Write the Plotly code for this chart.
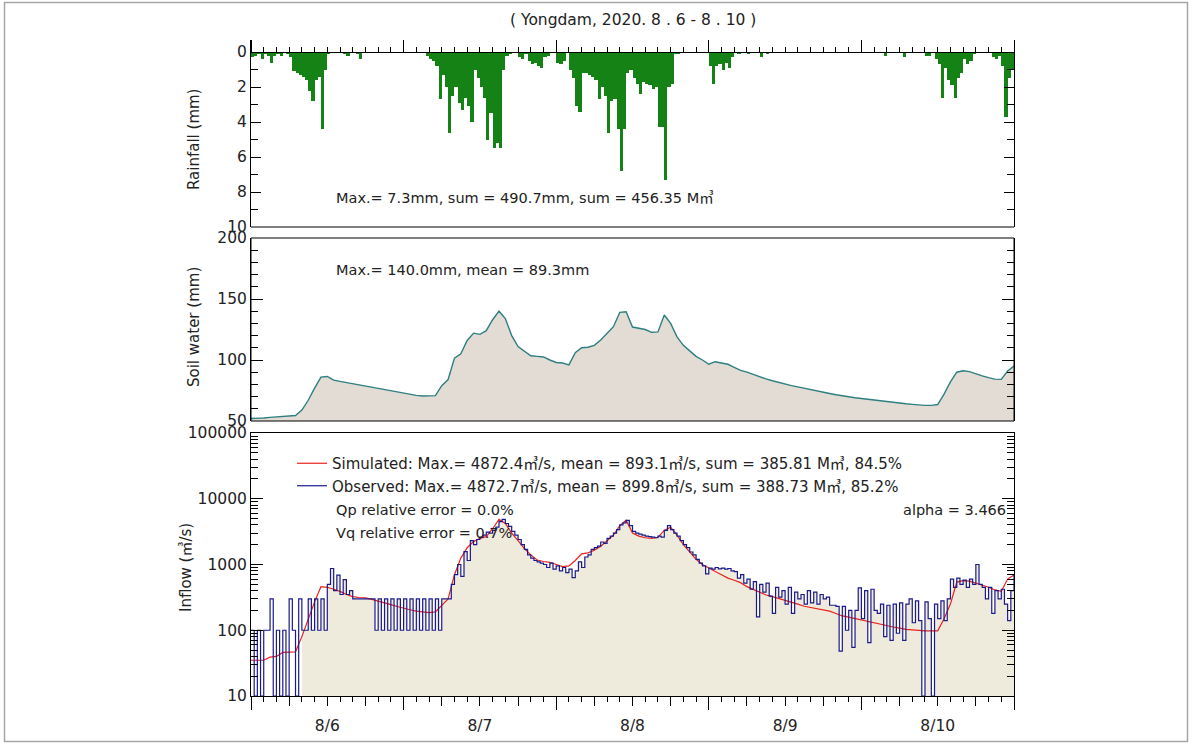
import pandas as pd
import plotly.graph_objects as go

W, H = 1192, 744
START, END = "2020-08-06 00:00", "2020-08-11 00:00"

# Half-hourly basin rainfall (mm), 8/6 00:00 .. 8/10 23:30 (one row = 6 h)
rain_mm = [
    0.3, 0.2, 0.1, 0.4, 0.1, 0.2, 0.65, 0.2, 0.1, 0.2, 0.05, 0.1,
    0.3, 1.1, 1.2, 1.3, 1.4, 1.6, 2.2, 2.8, 1.6, 1.4, 4.4, 1.0,
    0.1, 0.05, 0.05, 0, 0, 0.1, 0.2, 0, 0, 0.1, 0.4, 0,
    0.05, 0, 0.05, 0.05, 0, 0, 0, 0, 0, 0, 0, 0,
    0, 0, 0, 0, 0, 0, 0.05, 0.2, 0.4, 0.5, 0.8, 2.7,
    1.3, 2.0, 4.6, 2.5, 2.0, 2.9, 3.3, 2.6, 3.1, 4.0, 1.0, 1.5,
    2.0, 2.6, 5.0, 3.5, 5.5, 5.2, 5.5, 1.0, 0.2, 0.1, 0, 0,
    0.3, 0.4, 0.1, 0.5, 0.7, 0.6, 0.8, 0.9, 0.3, 0.2, 0, 0,
    0.6, 0.7, 0.5, 0, 1.0, 1.5, 3.1, 3.4, 1.2, 1.2, 1.3, 1.4,
    1.6, 2.7, 2.0, 2.5, 4.6, 2.8, 2.7, 4.4, 6.8, 4.4, 1.2, 1.0,
    1.5, 1.8, 2.4, 1.7, 1.8, 1.9, 2.1, 2.0, 4.3, 4.3, 7.3, 2.0,
    1.8, 0.1, 0.1, 0, 0, 0, 0, 0, 0, 0, 0, 0,
    0.8, 1.8, 0.8, 0.7, 1.0, 0.6, 0.9, 0.3, 0, 0.1, 0, 0,
    0.1, 0, 0, 0, 0.3, 0, 0.1, 0, 0, 0, 0, 0,
    0, 0, 0, 0, 0, 0, 0, 0, 0, 0, 0, 0,
    0, 0, 0, 0, 0, 0, 0, 0, 0, 0, 0, 0,
    0, 0, 0, 0, 0, 0, 0, 0.2, 0, 0, 0, 0,
    0, 0.3, 0, 0, 0, 0, 0, 0, 0.2, 0.2, 0, 0.4,
    0.7, 2.65, 0.9, 1.6, 1.9, 2.65, 1.5, 1.2, 0.4, 0.7, 0.5, 0.1,
    0, 0, 0, 0, 0, 0.3, 0.4, 0.2, 0.8, 3.7, 1.5, 1.0,
]

# Hourly soil water storage (mm), 8/6 00:00 .. 8/11 00:00
soil_mm = [
    52, 52, 52.5, 53, 53.5, 54, 54.2, 54.5, 59, 67, 77, 86,
    86.5, 83.5, 82.5, 81.5, 80.5, 79.5, 78.5, 77.5, 76.5, 75.5, 74.5, 73.5,
    72.5, 71.5, 71, 70.5, 70.5, 70.8, 79, 84, 101.5, 105, 116, 122,
    121, 124, 133, 140, 134, 120, 111, 107, 103.5, 103, 102.5, 100,
    98, 97.5, 96, 106, 110, 110.5, 112, 116.4, 121.9, 127.3, 139, 139.5,
    127, 126, 125, 122.7, 123, 136.9, 130, 119, 112, 107.5, 103, 100,
    96.5, 98.6, 97.5, 96.5, 94, 91.5, 90, 88, 86, 84.5, 83, 81.5,
    80.2, 79, 78, 76.8, 75.6, 74.5, 73.4, 72.5, 71.5, 70.5, 69.8, 69.1,
    68.5, 67.8, 67.1, 66.5, 65.9, 65.3, 64.7, 64.1, 63.6, 63, 62.8, 62.8,
    63.5, 72, 82, 90, 91.2, 90.5, 88.5, 87, 85.5, 84.3, 84.1, 91,
    95,
]

# Hourly simulated inflow (m3/s)
sim_cms = [
    35, 35, 35, 39, 40, 46, 47, 47, 80, 150, 270, 460,
    450, 420, 390, 350, 325, 315, 310, 295, 275, 260, 245, 230,
    215, 205, 195, 190, 185, 190, 240, 300, 700, 1250, 1800, 2230,
    2500, 2650, 3500, 4872.4, 4200, 3000, 2300, 1750, 1400, 1170, 1110, 1080,
    1000, 930, 950, 1150, 1450, 1500, 1650, 1900, 2300, 2800, 3900, 4700,
    3000, 2700, 2550, 2500, 2600, 3300, 3700, 2800, 2000, 1570, 1200, 1000,
    870, 780, 700, 620, 575, 530, 460, 420, 380, 344, 325, 305,
    290, 270, 250, 232, 222, 212, 205, 195, 180, 165, 158, 150,
    142, 135, 130, 124, 116, 112, 108, 103, 101, 99, 98, 98,
    98, 150, 250, 540, 570, 560, 520, 490, 450, 410, 390, 600,
    690,
]

# Half-hourly observed inflow (m3/s); 10 marks zero/missing at the axis floor
obs_cms = [
    100, 10, 100, 10, 100, 100, 300, 10, 100, 10, 100, 10,
    300, 100, 10, 300, 100, 100, 300, 100, 300, 100, 300, 100,
    500, 870, 400, 690, 350, 590, 350, 400, 300, 300, 300, 300,
    300, 300, 300, 100, 300, 100, 300, 100, 300, 100, 300, 100,
    300, 100, 300, 100, 300, 100, 300, 100, 300, 100, 300, 100,
    300, 300, 300, 500, 700, 1000, 660, 1570, 1150, 2300, 2000, 2400,
    2600, 2800, 3100, 3000, 3300, 3700, 4500, 4872.7, 4200, 3800, 3200, 2800,
    2400, 2000, 1700, 1400, 1250, 1150, 1100, 1050, 1000, 900, 1050, 850,
    950, 800, 900, 750, 850, 630, 800, 1100, 900, 1300, 1400, 1700,
    1800, 1900, 2200, 2100, 2500, 2700, 3000, 3400, 4000, 4300, 4700, 3900,
    3200, 3000, 2900, 2800, 2700, 2650, 2600, 2550, 2700, 2600, 3300, 3900,
    3400, 3000, 2700, 2300, 2000, 1800, 1550, 1400, 1200, 1050, 950, 720,
    880, 850, 900, 860, 880, 850, 870, 800, 780, 620, 700, 520,
    600, 420, 550, 160, 500, 380, 520, 330, 180, 450, 320, 400,
    250, 450, 180, 380, 300, 350, 250, 400, 260, 380, 250, 350,
    300, 320, 240, 240, 230, 48, 230, 100, 200, 55, 200, 440,
    150, 400, 65, 420, 200, 180, 250, 80, 240, 70, 250, 90,
    260, 70, 250, 300, 130, 280, 140, 10, 270, 150, 10, 250,
    150, 280, 140, 300, 600, 450, 620, 500, 580, 450, 600, 500,
    1000, 500, 450, 300, 450, 180, 400, 300, 420, 250, 140, 400,
    690,
]
FILL_FROM = 16  # observed area shading starts 8/6 08:00

rain_t = pd.date_range(START, periods=len(rain_mm), freq="30min") + pd.Timedelta(minutes=15)
hour_t = pd.date_range(START, periods=len(soil_mm), freq="h")
obs_t = pd.date_range(START, periods=len(obs_cms), freq="30min")

FONT = "DejaVu Sans, Noto Sans CJK KR, sans-serif"
TXT = "#222"
DAY = 86400000
HOUR = 3600000


def px(p):
    return p / W


def py(p):
    return 1 - p / H


XDOM = [px(251), px(1014)]

fig = go.Figure()

# rainfall hangs from the top edge of the first panel
fig.add_trace(go.Bar(
    x=rain_t, y=rain_mm, width=30 * 60000, marker=dict(color="#148214", line_width=0),
    xaxis="x", yaxis="y", showlegend=False, hoverinfo="x+y"))

fig.add_trace(go.Scatter(
    x=hour_t, y=soil_mm, mode="lines", fill="tozeroy", fillcolor="#e3dcd4",
    line=dict(color="#2e7f80", width=1.4), xaxis="x2", yaxis="y2", showlegend=False))

# inflow panel: shading on the base axis, lines on the overlay tick axes above it
fig.add_trace(go.Scatter(
    x=obs_t[FILL_FROM:], y=obs_cms[FILL_FROM:], mode="lines", line_shape="hv",
    fill="tozeroy", fillcolor="#efebdc", line=dict(width=0),
    xaxis="x3", yaxis="y3", showlegend=False, hoverinfo="skip"))

fig.add_trace(go.Scatter(
    x=hour_t, y=sim_cms, mode="lines", line=dict(color="#e8221c", width=1.2),
    name="Simulated: Max.= 4872.4㎥/s, mean = 893.1㎥/s, sum = 385.81 M㎥, 84.5%",
    legendgroup="sim", xaxis="x4", yaxis="y3"))

fig.add_trace(go.Scatter(
    x=obs_t, y=obs_cms, mode="lines", line_shape="hv", line=dict(color="#1a1a8c", width=1.2),
    name="Observed: Max.= 4872.7㎥/s, mean = 899.8㎥/s, sum = 388.73 M㎥, 85.2%",
    legendgroup="obs", xaxis="x8", yaxis="y3"))

axis_common = dict(showgrid=False, zeroline=False, automargin=False, linecolor="black",
                   linewidth=1, tickcolor="black", tickfont=dict(size=15.5, color=TXT))
date_common = dict(type="date", range=[START, END], domain=XDOM, tick0=START)
no_labels = dict(showticklabels=False, showline=False)

log_minor = [m * 10 ** k for k in range(1, 5) for m in range(2, 10)]
TOP = py(52)

fig.update_layout(
    width=W, height=H, margin=dict(l=0, r=0, t=0, b=0, pad=0),
    paper_bgcolor="white", plot_bgcolor="rgba(0,0,0,0)",
    font=dict(family=FONT, size=14, color=TXT),
    bargap=0,
    # rainfall panel: top time axis with daily ticks
    xaxis=dict(**axis_common, **date_common, anchor="free", position=TOP, side="top",
               showline=True, ticks="outside", ticklen=12, dtick=DAY, showticklabels=False),
    yaxis=dict(**axis_common, domain=[py(227), py(40)], range=[10, -12 / 17.5],
               showline=True, mirror="ticks", ticks="inside", ticklen=10,
               tickmode="array", tickvals=[0, 2, 4, 6, 8, 10],
               minor=dict(ticks="inside", ticklen=7, tickmode="array", tickvals=[1, 3, 5, 7, 9],
                          tickcolor="black")),
    # soil water panel; its time axis supplies the 2-hourly ticks along the top edge
    xaxis2=dict(**axis_common, **date_common, **no_labels, anchor="free", position=TOP,
                side="top", ticks="outside", ticklen=5, dtick=2 * HOUR),
    yaxis2=dict(**axis_common, domain=[py(421), py(238)], range=[50, 200], anchor="x2",
                showline=True, mirror="ticks", ticks="inside", ticklen=12, dtick=50,
                minor=dict(ticks="inside", ticklen=7, dtick=10, tickcolor="black")),
    # inflow panel: day ticks + labels, 6 h and 2 h tick overlays
    xaxis3=dict(**axis_common, **date_common, anchor="y3", side="bottom", showline=True,
                mirror=True, ticks="outside", ticklen=13, dtick=DAY,
                ticklabelmode="period", tickformat="%-m/%-d", ticklabelstandoff=2),
    xaxis4=dict(**axis_common, **date_common, **no_labels, overlaying="x3", anchor="y3",
                side="bottom", ticks="outside", ticklen=9, dtick=6 * HOUR),
    xaxis8=dict(**axis_common, **date_common, **no_labels, overlaying="x3", anchor="y3",
                side="bottom", ticks="outside", ticklen=5, dtick=2 * HOUR),
    yaxis3=dict(**axis_common, type="log", domain=[py(696), py(433)], range=[1, 5], anchor="x3",
                showline=True, mirror="ticks", ticks="inside", ticklen=12,
                tickmode="array", tickvals=[10, 100, 1000, 10000, 100000],
                ticktext=["10", "100", "1000", "10000", "100000"],
                minor=dict(ticks="inside", ticklen=7, tickmode="array", tickvals=log_minor,
                           tickcolor="black")),
    legend=dict(x=px(292), y=py(447), xanchor="left", yanchor="top",
                bgcolor="rgba(0,0,0,0)", font=dict(size=15, color=TXT), itemwidth=30,
                tracegroupgap=0),
    shapes=[
        # outer frame of the figure
        dict(type="rect", xref="paper", yref="paper", x0=px(4.5), x1=px(1187.5),
             y0=py(741.5), y1=py(2.5), line=dict(color="#a6a6a6", width=1.5), layer="below"),
        # closing line along the bottom of the rainfall panel
        dict(type="line", xref="x domain", yref="y domain", x0=0, x1=1, y0=0, y1=0,
             line=dict(color="black", width=1)),
        # frame of the soil water panel
        dict(type="rect", xref="x2 domain", yref="y2 domain", x0=0, x1=1, y0=0, y1=1,
             line=dict(color="black", width=1), fillcolor="rgba(0,0,0,0)"),
    ],
)

notes = [
    ("( Yongdam, 2020. 8 . 6 - 8 . 10 )", 632.5, 20, "center", 0, 15.5),
    ("Max.= 7.3mm, sum = 490.7mm, sum = 456.35 M㎥", 334, 198, "left", 0, 14.5),
    ("Max.= 140.0mm, mean = 89.3mm", 334, 270, "left", 0, 14.5),
    ("Qp relative error = 0.0%", 334, 510, "left", 0, 14.5),
    ("Vq relative error = 0.7%", 334, 533, "left", 0, 14.5),
    ("alpha = 3.466", 1008, 510, "right", 0, 14.5),
    ("Rainfall (mm)", 194, 139, "center", -90, 15),
    ("Soil water (mm)", 194, 327, "center", -90, 15),
    ("Inflow (㎥/s)", 186, 568, "center", -90, 15),
]
for text, x, y, anchor, angle, size in notes:
    fig.add_annotation(text=text, x=px(x), y=py(y), xref="paper", yref="paper",
                       xanchor=anchor, yanchor="middle", showarrow=False,
                       textangle=angle, font=dict(size=size, color=TXT))

fig.write_html("out.html")
